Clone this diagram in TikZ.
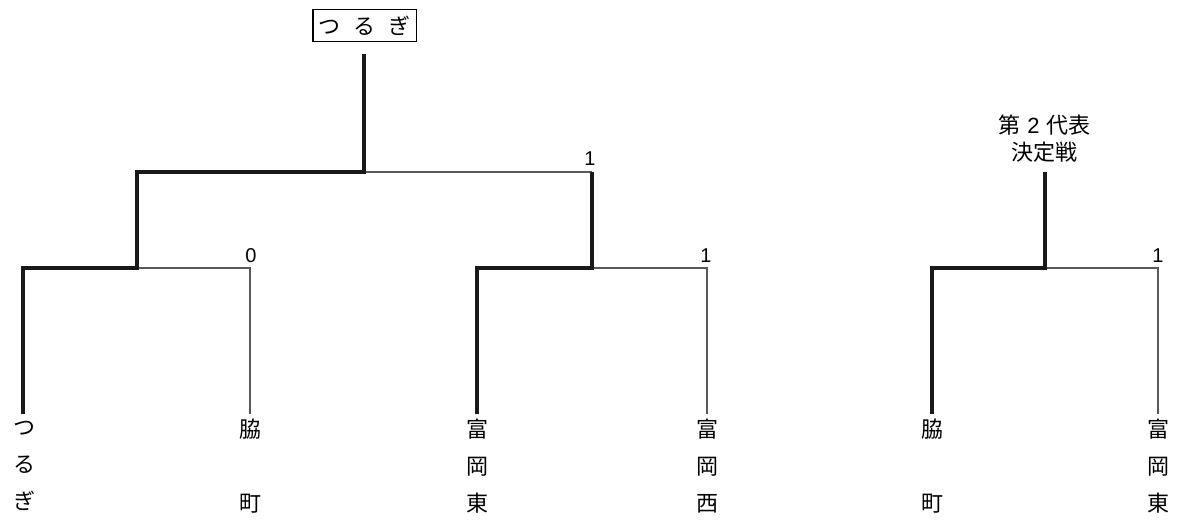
\documentclass[tikz,border=0pt]{standalone}
\usepackage{fontspec}
\setmainfont{Noto Sans CJK JP}
\newfontfamily\jpfont{Noto Sans CJK JP}
\newfontfamily\numfont{Liberation Sans}
\begin{document}
\begin{tikzpicture}[x=0.75pt,y=-0.75pt,
  win/.style={line width=3pt,line join=miter,black!90},
  lose/.style={line width=0.8pt,black!65},
  team/.style={font=\jpfont\fontsize{16.5}{27.75}\selectfont,align=center,inner sep=0pt},
  score/.style={font=\numfont\fontsize{15}{18}\selectfont,inner sep=0pt},
  titlebox/.style={draw,line width=0.8pt,font=\jpfont\fontsize{16.5}{20}\selectfont,inner xsep=4pt,inner ysep=4.5pt}]
\useasboundingbox (0,0) rectangle (1177,520);

% champion box
\node[titlebox] (champ) at (364.5,25.5) {つ\hspace{0.6em}る\hspace{0.6em}ぎ};
\node[team,font=\jpfont\fontsize{16.5}{20.25}\selectfont] (second) at (1044.5,139) {第\hspace{0.3em}{\numfont 2}\hspace{0.3em}代表\\決定戦};

% team labels
\node[team] (t1) at (24,466) {つ\\る\\ぎ};
\node[team] (t2) at (250,466) {脇\\~\\町};
\node[team] (t3) at (477,466) {富\\岡\\東};
\node[team] (t4) at (707,466) {富\\岡\\西};
\node[team] (t5) at (932,466) {脇\\~\\町};
\node[team] (t6) at (1158,466) {富\\岡\\東};

% line ends
\coordinate (e1) at (23,414);
\coordinate (e2) at (250,414);
\coordinate (e3) at (477,414);
\coordinate (e4) at (707,414);
\coordinate (e5) at (932,414);
\coordinate (e6) at (1158,414);
\coordinate (top) at (364,54);
\coordinate (top2) at (1045,172);

% junctions
\coordinate (j1) at (137,268);
\coordinate (j2) at (592,268);
\coordinate (j3) at (364,172);
\coordinate (j4) at (1045,268);

% scores
\node[score] (s1) at (251,256) {0};
\node[score] (s2) at (706,256) {1};
\node[score] (s3) at (590,159) {1};
\node[score] (s4) at (1158,256) {1};

% losing lines
\draw[lose] (j1) -| (e2);
\draw[lose] (j2) -| (e4);
\draw[lose] (j3) -- (j3 -| j2);
\draw[lose] (j4) -| (e6);

% winning lines
\draw[win] (e1) |- (j1) |- (j3) -- (top);
\draw[win] (e3) |- (j2) -- (j2 |- j3);
\draw[win] (e5) |- (j4) -- (top2);
\end{tikzpicture}
\end{document}
